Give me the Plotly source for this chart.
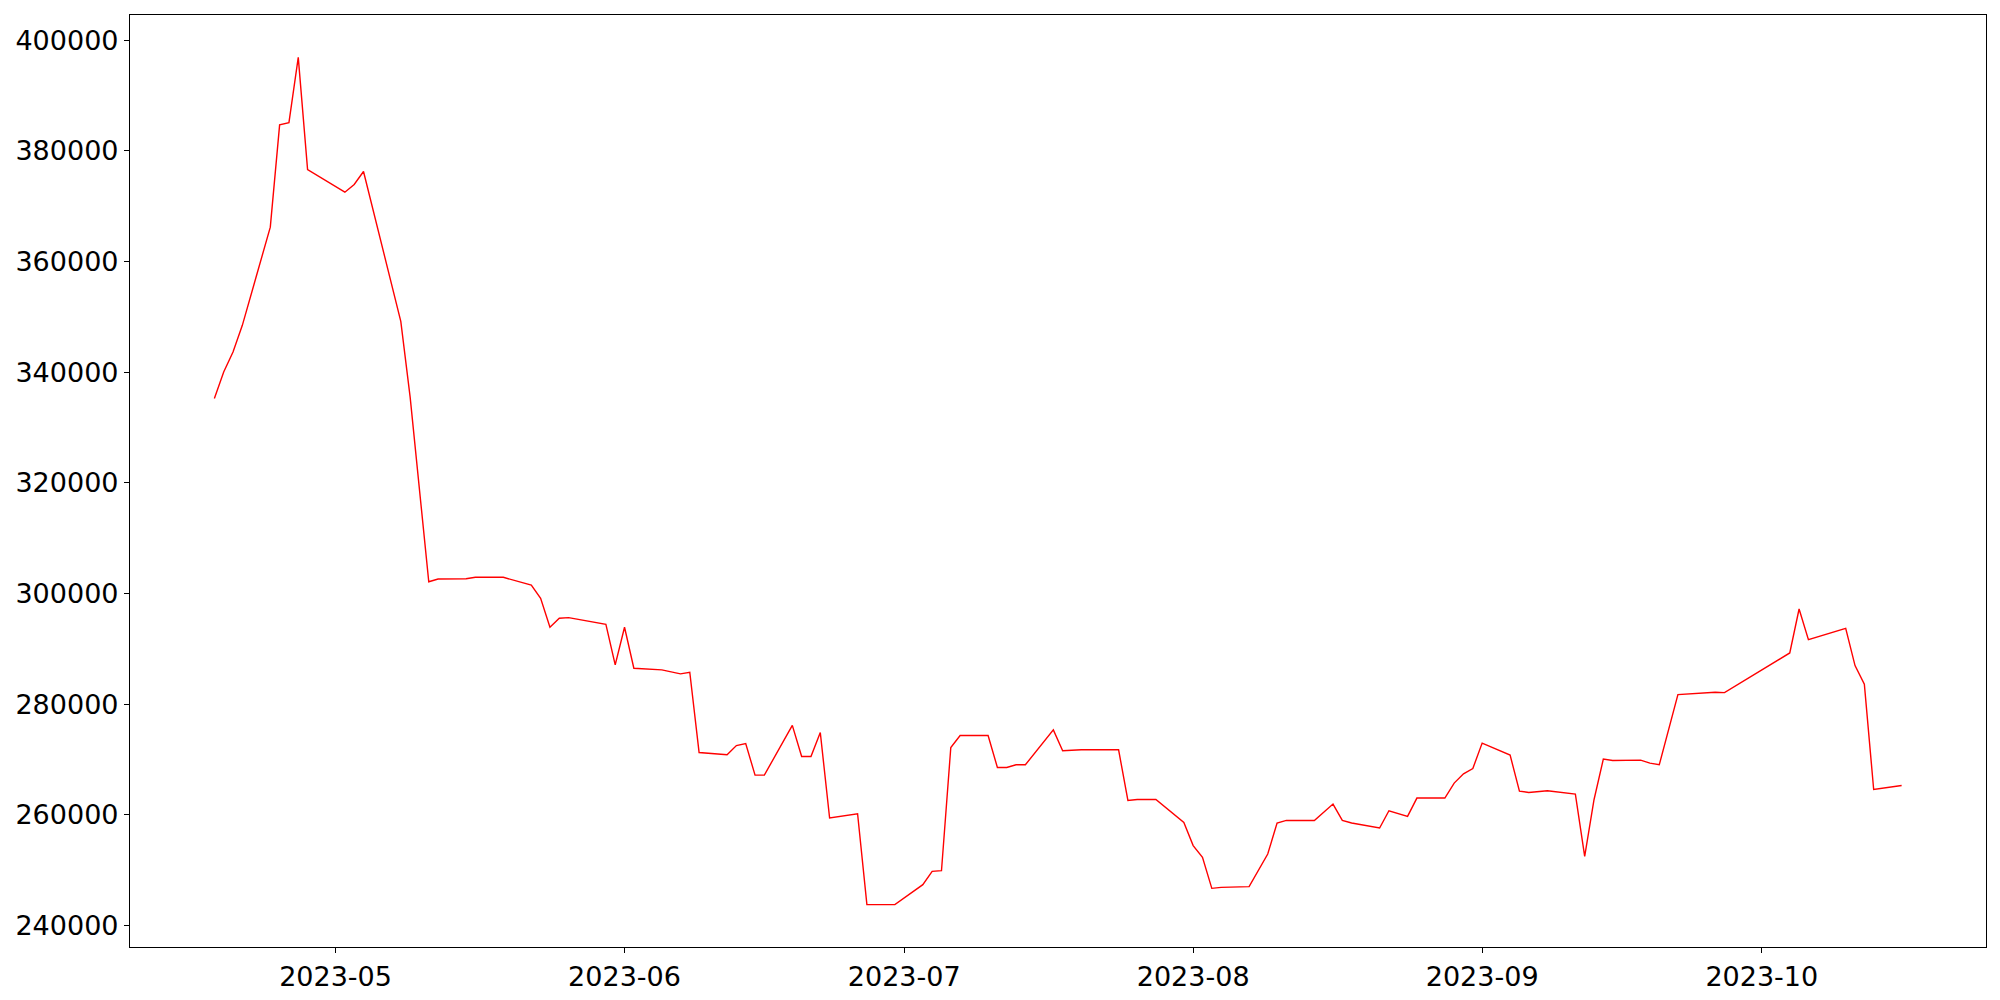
import plotly.graph_objects as go
import pandas as pd

dates = [
    "2023-04-18", "2023-04-19", "2023-04-20", "2023-04-21", "2023-04-24", "2023-04-25",
    "2023-04-26", "2023-04-27", "2023-04-28", "2023-05-02", "2023-05-03", "2023-05-04",
    "2023-05-08", "2023-05-09", "2023-05-11", "2023-05-12", "2023-05-15", "2023-05-16",
    "2023-05-19", "2023-05-22", "2023-05-23", "2023-05-24", "2023-05-25", "2023-05-26",
    "2023-05-30", "2023-05-31", "2023-06-01", "2023-06-02", "2023-06-05", "2023-06-07",
    "2023-06-08", "2023-06-09", "2023-06-12", "2023-06-13", "2023-06-14", "2023-06-15",
    "2023-06-16", "2023-06-19", "2023-06-20", "2023-06-21", "2023-06-22", "2023-06-23",
    "2023-06-26", "2023-06-27", "2023-06-30", "2023-07-03", "2023-07-04", "2023-07-05",
    "2023-07-06", "2023-07-07", "2023-07-10", "2023-07-11", "2023-07-12", "2023-07-13",
    "2023-07-14", "2023-07-17", "2023-07-18", "2023-07-20", "2023-07-24", "2023-07-25",
    "2023-07-26", "2023-07-28", "2023-07-31", "2023-08-01", "2023-08-02", "2023-08-03",
    "2023-08-04", "2023-08-07", "2023-08-09", "2023-08-10", "2023-08-11", "2023-08-14",
    "2023-08-16", "2023-08-17", "2023-08-18", "2023-08-21", "2023-08-22", "2023-08-24",
    "2023-08-25", "2023-08-28", "2023-08-29", "2023-08-30", "2023-08-31", "2023-09-01",
    "2023-09-04", "2023-09-05", "2023-09-06", "2023-09-08", "2023-09-11", "2023-09-12",
    "2023-09-13", "2023-09-14", "2023-09-15", "2023-09-18", "2023-09-19", "2023-09-20",
    "2023-09-22", "2023-09-25", "2023-09-26", "2023-09-27", "2023-10-04", "2023-10-05",
    "2023-10-06", "2023-10-10", "2023-10-11", "2023-10-12", "2023-10-13", "2023-10-16",
]

values = [
    335237, 340040, 343650, 348467, 366210, 384694,
    385109, 396896, 376627, 372529, 373918, 376264,
    349190, 335525, 302133, 302620, 302680, 302930,
    302930, 301540, 299140, 293900, 295525, 295640,
    294440, 287098, 293900, 286500, 286200, 285473,
    285780, 271267, 270852, 272531, 272892, 267188,
    267188, 276180, 270545, 270545, 274878, 259425,
    260203, 243777, 243777, 247387, 249788, 249914,
    272170, 274336, 274336, 268560, 268560, 269048,
    269048, 275365, 271574, 271755, 271755, 262603,
    262784, 262784, 258633, 254450, 252315, 246720,
    246900, 247024, 252929, 258524, 258993, 258993,
    261954, 258993, 258524, 257622, 260743, 259715,
    263036, 263036, 265741, 267422, 268380, 272964,
    270798, 264300, 264047, 264354, 263759, 252495,
    262730, 270076, 269835, 269895, 269354, 269048,
    281736, 281976, 282156, 282096, 289262, 297205,
    291664, 293722, 286971, 283614, 264589, 265311,
]

y_ticks = [240000, 260000, 280000, 300000, 320000, 340000, 360000, 380000, 400000]

x = pd.to_datetime(dates)
xpad = (x.max() - x.min()) * 0.05
ylo, yhi = min(values), max(values)
ypad = (yhi - ylo) * 0.05

fig = go.Figure()
fig.add_trace(go.Scatter(
    x=x, y=values, mode="lines",
    line=dict(color="red", width=1.4),
    showlegend=False,
))

font = dict(family="DejaVu Sans", size=27, color="black")

fig.update_layout(
    width=1992, height=992,
    margin=dict(l=122, r=14, t=7, b=53, autoexpand=False),
    paper_bgcolor="white", plot_bgcolor="white",
    font=font,
    xaxis=dict(
        range=[x.min() - xpad, x.max() + xpad],
        type="date", automargin=False,
        tick0="2023-05-01", dtick="M1", tickformat="%Y-%m",
        showgrid=False, zeroline=False,
        showline=True, linecolor="black", linewidth=1.2, mirror=True,
        ticks="outside", ticklen=5, tickwidth=1.1, tickcolor="black",
        tickfont=font,
    ),
    yaxis=dict(
        range=[ylo - ypad, yhi + ypad], automargin=False,
        tickvals=y_ticks, ticktext=[str(v) for v in y_ticks],
        showgrid=False, zeroline=False,
        showline=True, linecolor="black", linewidth=1.2, mirror=True,
        ticks="outside", ticklen=5, tickwidth=1.1, tickcolor="black",
        tickfont=font,
    ),
)

fig.write_html("out.html")
